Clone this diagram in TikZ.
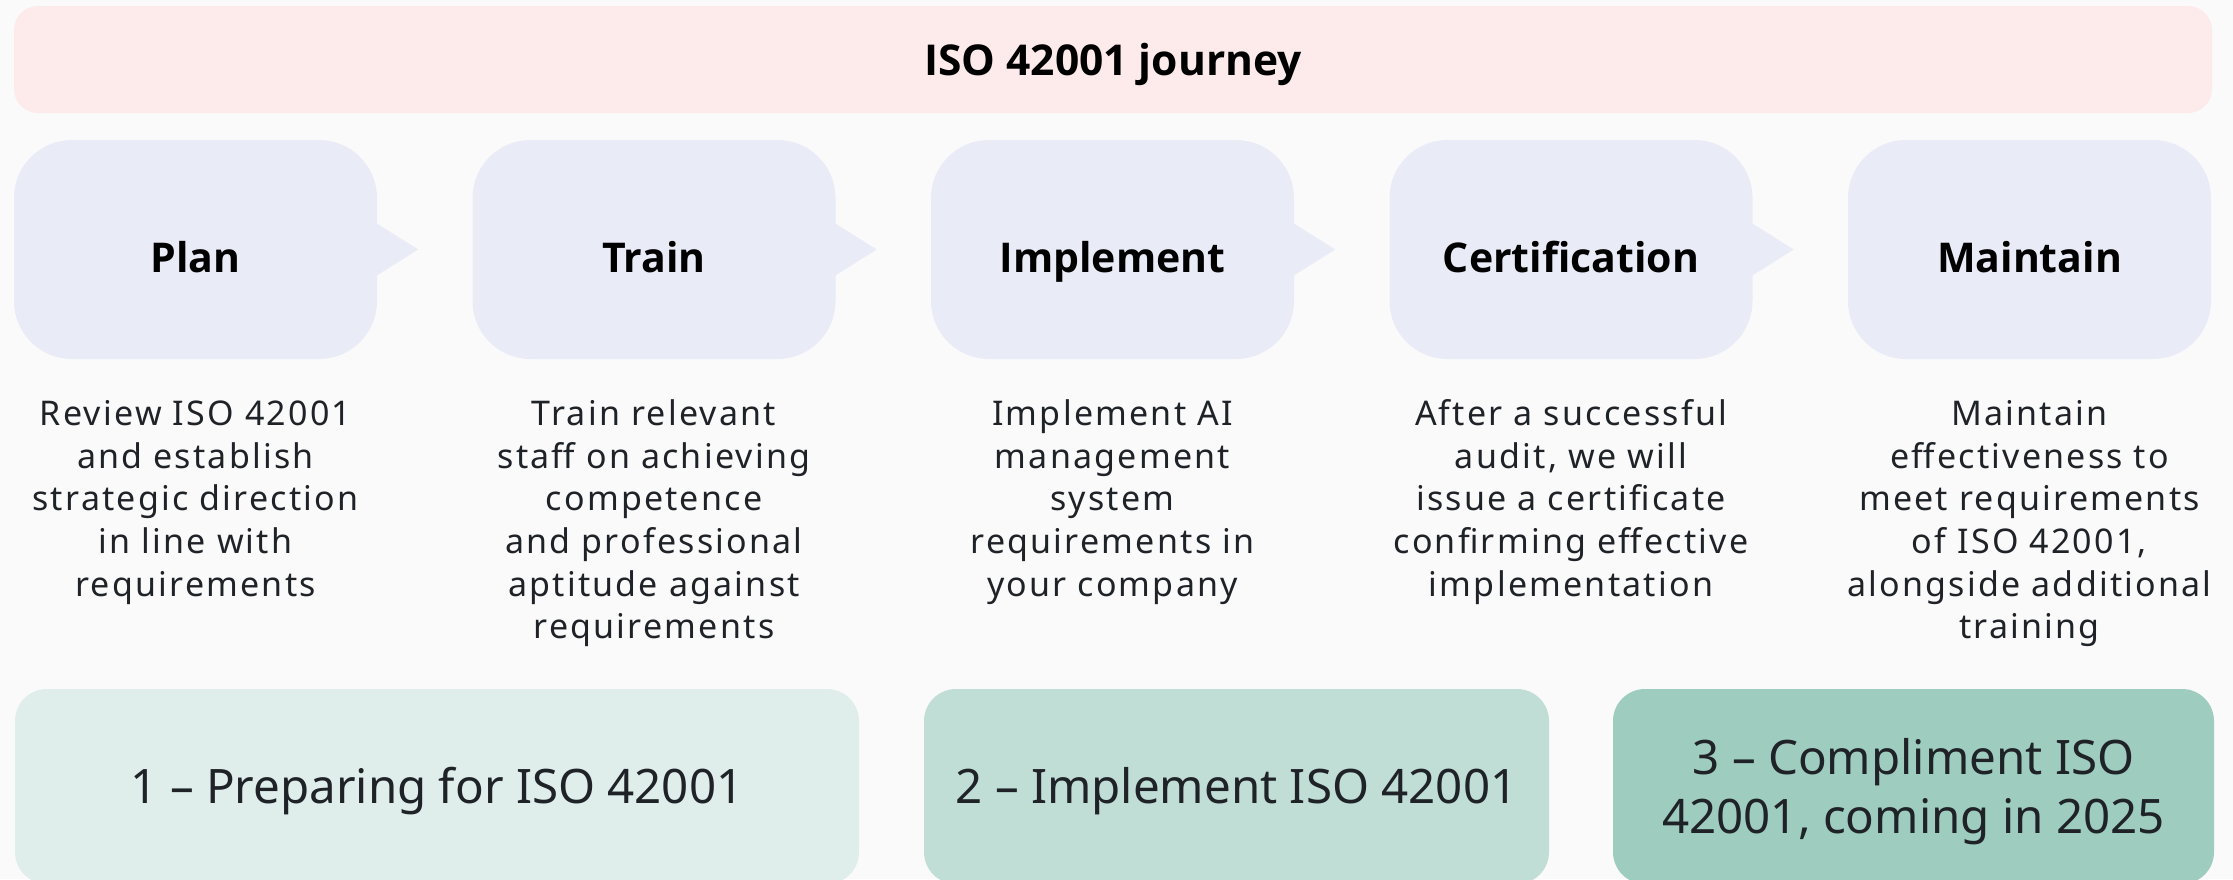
\documentclass[tikz,border=0pt]{standalone}
\usepackage{fontspec}
\setmainfont{Noto Sans}
\newfontfamily\descfont[LetterSpace=6.5]{Noto Sans}
\newfontfamily\headfont{Open Sans}
\definecolor{bg}{HTML}{FAFAFB}
\definecolor{banner}{HTML}{FDEAEA}
\definecolor{stepfill}{HTML}{E9EBF7}
\definecolor{phaseA}{HTML}{DFEEEB}
\definecolor{phaseB}{HTML}{C0DDD6}
\definecolor{phaseC}{HTML}{9ECCBF}
\definecolor{ink}{HTML}{1F2328}
\newcommand{\stepTxt}[1]{\raisebox{0pt}[46.5pt][0pt]{#1}}
\newcommand{\phaseTxt}[1]{\raisebox{0pt}[33pt][0pt]{#1}}
\begin{document}
\begin{tikzpicture}[x=1pt,y=-1pt,
  titlebox/.style={fill=banner, rounded corners=24pt, minimum width=2198pt, minimum height=107pt, inner sep=0pt, font=\headfont\bfseries\fontsize{42.5}{52}\selectfont, text=black},
  stepbox/.style={fill=stepfill, rounded corners=58pt, minimum width=363pt, minimum height=219pt, inner sep=0pt, font=\headfont\bfseries\fontsize{41}{50}\selectfont, text=black},
  tipshape/.style={fill=stepfill},
  desc/.style={inner sep=0pt, anchor=base, text=ink, font=\descfont\fontsize{34}{42.6}\selectfont},
  phasebox/.style={rounded corners=32pt, minimum height=195pt, inner sep=0pt, text=ink, font=\fontsize{47.5}{59}\selectfont}
]
\useasboundingbox (0,0) rectangle (2233,879);
\clip (0,0) rectangle (2233,879);
\fill[bg] (0,0) rectangle (2233,879);

\node[titlebox] (title) at (1113,59.5) {\raisebox{0pt}[32pt][0pt]{ISO 42001 journey}};

\node[stepbox] (plan)  at (195.5,249.5)  {\stepTxt{Plan}};
\node[stepbox] (train) at (654,249.5)    {\stepTxt{Train}};
\node[stepbox] (impl)  at (1112.5,249.5) {\stepTxt{Implement}};
\node[stepbox] (cert)  at (1571,249.5)   {\stepTxt{Certification}};
\node[stepbox] (maint) at (2029.5,249.5) {\stepTxt{Maintain}};

\foreach \s in {plan,train,impl,cert}{
  \fill[tipshape] ([xshift=-2pt,yshift=27pt]\s.east) -- ([xshift=41pt]\s.east) -- ([xshift=-2pt,yshift=-27pt]\s.east) -- cycle;
}

\node[desc] (plantxt) at (195.5,425.7) {\begin{tabular}[t]{@{}c@{}}Review ISO 42001\\and establish\\strategic direction\\in line with\\requirements\end{tabular}};
\node[desc] (traintxt) at (654,425.7) {\begin{tabular}[t]{@{}c@{}}Train relevant\\staff on achieving\\competence\\and professional\\aptitude against\\requirements\end{tabular}};
\node[desc] (impltxt) at (1112.5,425.7) {\begin{tabular}[t]{@{}c@{}}Implement AI\\management\\system\\requirements in\\your company\end{tabular}};
\node[desc] (certtxt) at (1571,425.7) {\begin{tabular}[t]{@{}c@{}}After a successful\\audit, we will\\issue a certificate\\confirming effective\\implementation\end{tabular}};
\node[desc] (mainttxt) at (2029.5,425.7) {\begin{tabular}[t]{@{}c@{}}Maintain\\effectiveness to\\meet requirements\\of ISO 42001,\\alongside additional\\training\end{tabular}};

\node[phasebox, fill=phaseA, minimum width=844pt] (ph1) at (437,786.5) {\phaseTxt{1 – Preparing for ISO 42001}};
\node[phasebox, fill=phaseB, minimum width=625pt] (ph2) at (1236.5,786.5) {\phaseTxt{2 – Implement ISO 42001}};
\node[phasebox, fill=phaseC, minimum width=601pt] (ph3) at (1913.5,786.5) {\raisebox{0pt}[93pt][0pt]{\begin{tabular}[b]{@{}c@{}}3 – Compliment ISO\\42001, coming in 2025\end{tabular}}};
\end{tikzpicture}
\end{document}
